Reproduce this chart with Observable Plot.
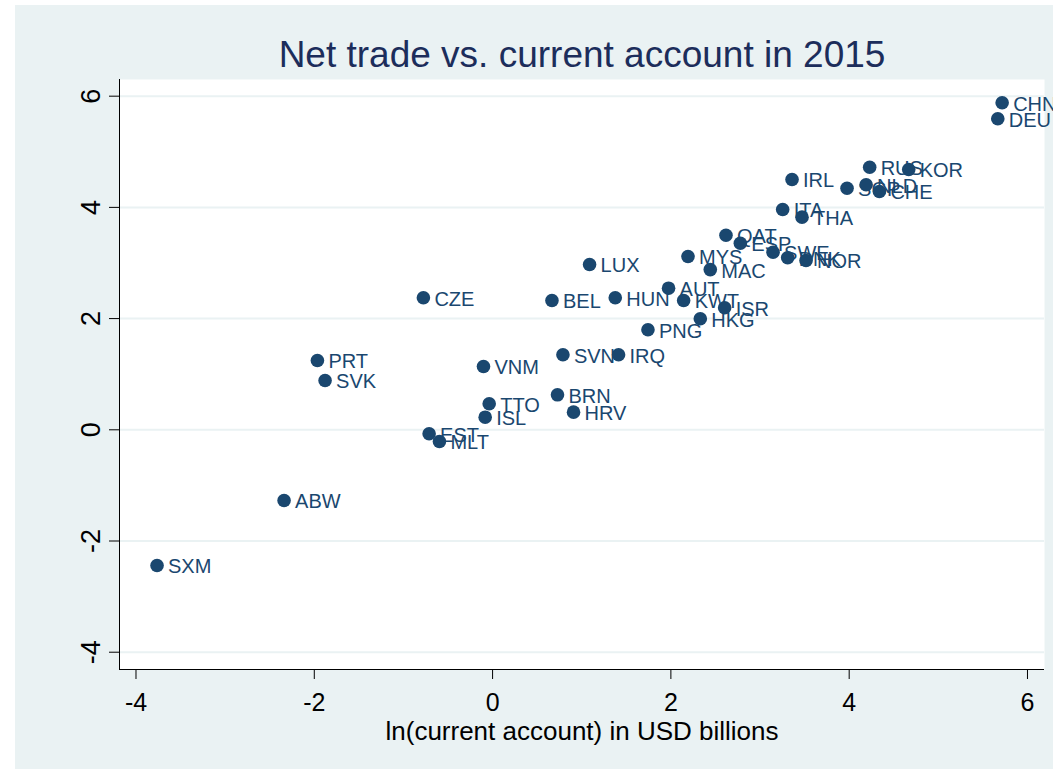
<!DOCTYPE html>
<html>
<head>
<meta charset="utf-8">
<script src="https://cdn.jsdelivr.net/npm/d3@7"></script>
<script src="https://cdn.jsdelivr.net/npm/@observablehq/plot@0.6"></script>
<style>
  html, body { margin: 0; padding: 0; background: #ffffff; }
  #wrap { position: relative; width: 1053px; height: 769px; overflow: hidden; }
  #bg { position: absolute; left: 15px; top: 5px; width: 1038px; height: 764px; background: #EAF2F3; }
  #chart { position: absolute; left: 0; top: 0; }
  #chart svg { background: transparent; }
</style>
</head>
<body>
<div id="wrap"><div id="bg"></div><div id="chart"></div></div>
<script>
const titleText = "Net trade vs. current account in 2015";
const xLabel = "ln(current account) in USD billions";

const countries = ["CHN","DEU","RUS","KOR","IRL","SGP","NLD","CHE","ITA","THA",
  "QAT","ESP","SWE","DNK","NOR","MYS","MAC","LUX","AUT","HUN",
  "KWT","ISR","HKG","PNG","CZE","BEL","SVN","IRQ","VNM","BRN",
  "HRV","TTO","ISL","EST","MLT","PRT","SVK","ABW","SXM"];
const lnCurrentAccount = [5.716,5.667,4.230,4.668,3.359,3.976,4.190,4.339,3.254,3.471,
  2.618,2.779,3.146,3.310,3.516,2.192,2.442,1.088,1.974,1.376,
  2.143,2.603,2.330,1.743,-0.776,0.666,0.789,1.413,-0.102,0.728,
  0.908,-0.038,-0.083,-0.712,-0.596,-1.965,-1.879,-2.339,-3.764];
const lnNetTrade = [5.881,5.594,4.723,4.682,4.502,4.345,4.406,4.286,3.962,3.824,
  3.500,3.356,3.194,3.094,3.045,3.117,2.881,2.973,2.547,2.374,
  2.326,2.194,1.996,1.799,2.374,2.326,1.349,1.349,1.138,0.629,
  0.317,0.468,0.227,-0.072,-0.210,1.246,0.887,-1.272,-2.441];

const xTicks = [-4, -2, 0, 2, 4, 6];
const yTicks = [-4, -2, 0, 2, 4, 6];
const xDomain = [-4.185, 6.191];
const yDomain = [-4.311, 6.300];

const data = countries.map((c, i) => ({country: c, x: lnCurrentAccount[i], y: lnNetTrade[i]}));

const navy = "#1a476f";
const fmt = d => String(d);

const chart = Plot.plot({
  width: 1053,
  height: 769,
  marginLeft: 119,
  marginRight: 9,
  marginTop: 79,
  marginBottom: 100,
  style: {fontFamily: "'Liberation Sans', Arial, sans-serif", background: "transparent", overflow: "visible"},
  x: {domain: xDomain, ticks: xTicks},
  y: {domain: yDomain, ticks: yTicks},
  marks: [
    Plot.frame({fill: "white", stroke: null}),
    Plot.gridY(yTicks, {stroke: "#EAF2F3", strokeOpacity: 1, strokeWidth: 2}),
    Plot.ruleX([xDomain[0]], {stroke: "black", strokeWidth: 1}),
    Plot.ruleY([yDomain[0]], {stroke: "black", strokeWidth: 1}),
    Plot.axisX(xTicks, {tickSize: 10, tickPadding: 14, fontSize: 25, fill: "black", stroke: "black", label: null, tickFormat: fmt}),
    Plot.axisY(yTicks, {tickSize: 10, tickPadding: 10, tickRotate: -90, fontSize: 27, fill: "black", stroke: "black", label: null, tickFormat: fmt}),
    Plot.dot(data, {x: "x", y: "y", r: 6.8, fill: navy, stroke: null}),
    Plot.text(data, {x: "x", y: "y", text: "country", dx: 11, dy: 1.5, textAnchor: "start", fontSize: 20, fill: navy}),
    Plot.text([titleText], {frameAnchor: "top", lineAnchor: "middle", dy: -24, fontSize: 37, fill: "#1c2d5b"}),
    Plot.text([xLabel], {frameAnchor: "bottom", lineAnchor: "middle", dy: 62, fontSize: 26, fill: "black"})
  ]
});
document.getElementById("chart").appendChild(chart);
</script>
</body>
</html>
